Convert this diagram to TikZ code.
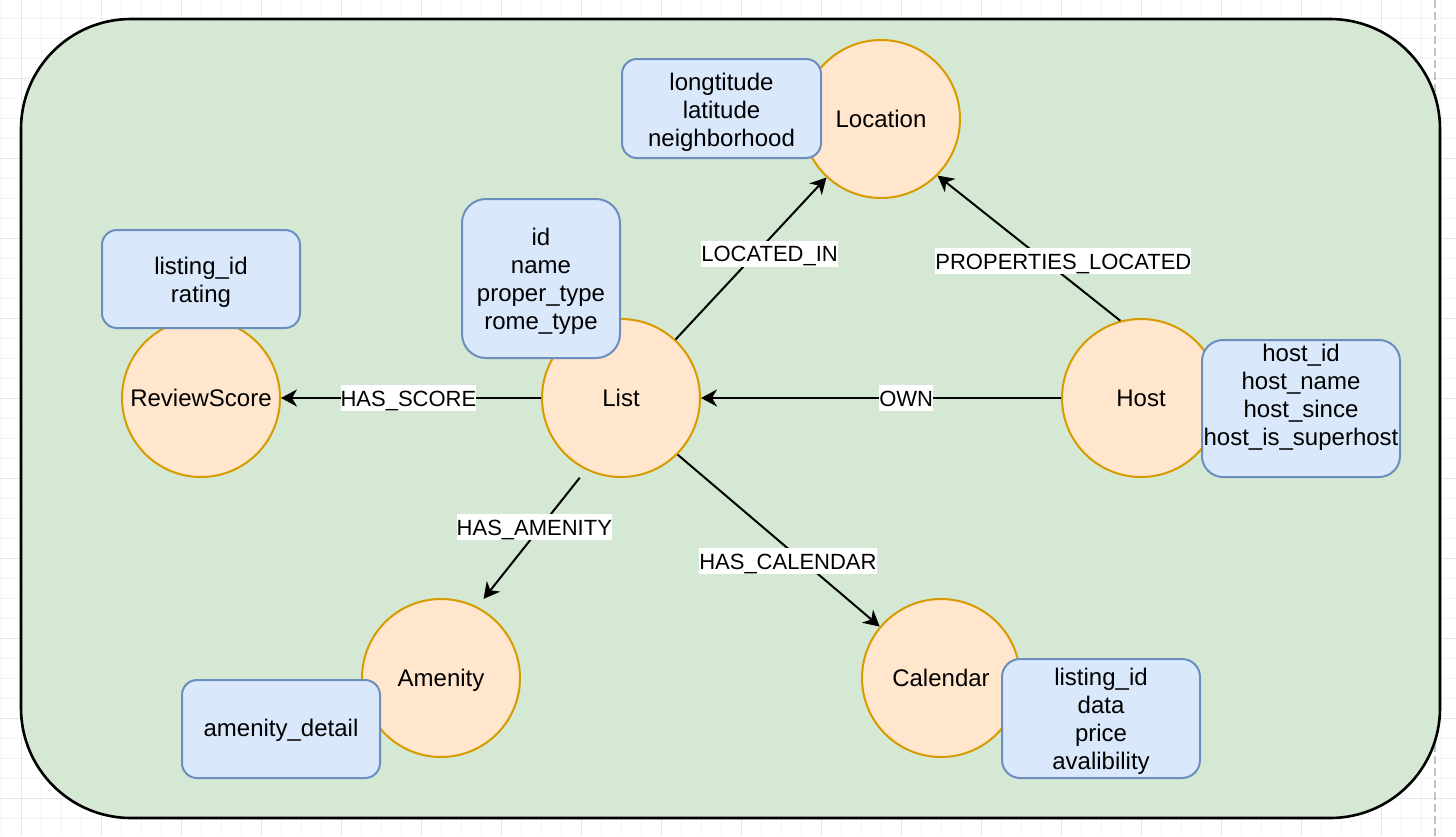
\documentclass[tikz,border=0pt]{standalone}
\usepackage{fontspec}
\setmainfont{Liberation Sans}
\usetikzlibrary{arrows.meta}

\definecolor{framefill}{HTML}{D5E8D4}
\definecolor{entityfill}{HTML}{FFE6CC}
\definecolor{entityline}{HTML}{D79B00}
\definecolor{attrfill}{HTML}{DAE8FC}
\definecolor{attrline}{HTML}{6C8EBF}
\definecolor{minorgrid}{HTML}{F3F3F3}
\definecolor{majorgrid}{HTML}{E6E6E6}
\definecolor{pagebreak}{HTML}{C4C4C4}

\newcommand{\linestrut}{\rule[-6pt]{0pt}{28pt}}

\begin{document}
\begin{tikzpicture}[x=1pt, y=-1pt,
		entity/.style={circle, draw=entityline, fill=entityfill, line width=2pt, minimum size=158pt, inner sep=0pt, font=\fontsize{24}{28}\selectfont, execute at begin node=\linestrut},
		attrbox/.style={rectangle, draw=attrline, fill=attrfill, line width=2pt, inner sep=0pt},
		attrtext/.style={align=center, inner sep=0pt, font=\fontsize{24}{28}\selectfont},
		rel/.style={line width=2pt, -{Stealth[length=16pt, width=17pt, inset=5pt]}},
		edgelabel/.style={fill=white, inner xsep=0pt, inner ysep=0pt, text height=21pt, text depth=5pt, font=\fontsize{22}{26}\selectfont}]
			\useasboundingbox (0,0) rectangle (1456,836);
			
			%% background grid
			\foreach \gx in {1,21,...,1456} \draw[minorgrid, line width=1pt] (\gx,0) -- (\gx,836);
			\foreach \gy in {-2,18,...,836} \draw[minorgrid, line width=1pt] (0,\gy) -- (1456,\gy);
			\foreach \gx in {21,101,...,1456} \draw[majorgrid, line width=1pt] (\gx,0) -- (\gx,836);
			\foreach \gy in {78,158,...,836} \draw[majorgrid, line width=1pt] (0,\gy) -- (1456,\gy);
			\draw[pagebreak, line width=1.5pt, dash pattern=on 8pt off 4pt] (1435,0) -- (1435,836);
			
			%% outer frame
			\draw[fill=framefill, line width=2.6pt, rounded corners=110pt] (21,19) rectangle (1440,818);
			
			%% entities
			\node[entity] (location) at (881,119) {Location};
			\node[entity] (list) at (621,398) {List};
			\node[entity] (review) at (201,398) {ReviewScore};
			\node[entity] (host) at (1141,398) {Host};
			\node[entity] (amenity) at (441,678) {Amenity};
			\node[entity] (calendar) at (941,678) {Calendar};
			
			%% attributes
			\node[attrbox, rounded corners=15pt, minimum width=199pt, minimum height=99pt,
				label={[attrtext, yshift=-4pt]center:{longtitude\\latitude\\neighborhood}}] (locattr) at (721.5,108.5) {};
			\node[attrbox, rounded corners=15pt, minimum width=198pt, minimum height=98pt,
				label={[attrtext, yshift=-3pt]center:{listing\_id\\rating}}] (scoreattr) at (201,279) {};
			\node[attrbox, rounded corners=24pt, minimum width=158pt, minimum height=159pt,
				label={[attrtext, yshift=-3pt]center:{id\\name\\proper\_type\\rome\_type}}] (listattr) at (541,278.5) {};
			\node[attrbox, rounded corners=21pt, minimum width=198pt, minimum height=137pt,
				label={[attrtext]center:{host\_id\\host\_name\\host\_since\\host\_is\_superhost\\ \mbox{}}}] (hostattr) at (1301,408.5) {};
			\node[attrbox, rounded corners=18pt, minimum width=198pt, minimum height=119pt,
				label={[attrtext, yshift=-3pt]center:{listing\_id\\data\\price\\avalibility}}] (calattr) at (1101,718.5) {};
			\node[attrbox, rounded corners=15pt, minimum width=198pt, minimum height=98pt,
				label={[attrtext, yshift=-1pt]center:{amenity\_detail}}] (amenattr) at (281,729) {};
			
			%% relations
			\draw[rel] (list) -- node[edgelabel, pos=0.51] {HAS\_SCORE} (review);
			\draw[rel] (host) -- node[edgelabel, pos=0.43] {OWN} (list);
			\draw[rel] (list) -- node[edgelabel, pos=0.53, xshift=14pt] {LOCATED\_IN} (location);
			\draw[rel] (host.105) -- node[edgelabel, pos=0.41, xshift=18pt] {PROPERTIES\_LOCATED} (location.-45);
			\draw[rel, shorten <=10pt, shorten >=10pt] (list.244) -- node[edgelabel, pos=0.42, xshift=-6pt] {HAS\_AMENITY} (amenity.63);
			\draw[rel] (list.-45) -- node[edgelabel, pos=0.62, xshift=-15pt] {HAS\_CALENDAR} (calendar.140);
			
		\end{tikzpicture}
\end{document}
